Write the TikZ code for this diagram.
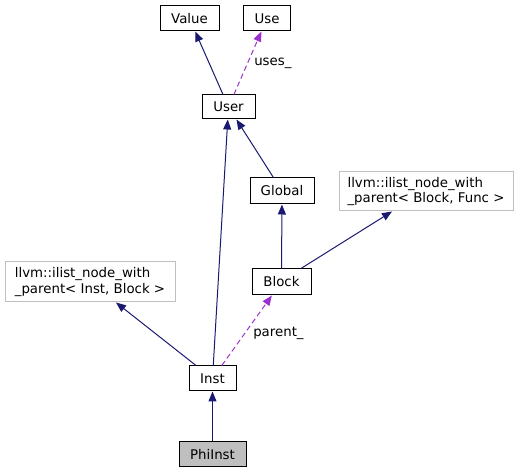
\documentclass[tikz,border=0pt]{standalone}
\usepackage{fontspec}
\setmainfont{DejaVu Sans}
\usetikzlibrary{arrows.meta}
\definecolor{navy}{HTML}{191970}
\definecolor{orchid}{HTML}{9A32CD}
\definecolor{lgray}{HTML}{BFBFBF}
\begin{document}
\begin{tikzpicture}[x=0.75pt,y=-0.75pt,
  box/.style={draw=black,line width=0.75pt,inner sep=0pt,font=\fontsize{10}{11.5}\selectfont,minimum height=18.75pt},
  gbox/.style={box,draw=lgray,align=left},
  inh/.style={draw=navy,line width=0.75pt,-{Triangle[length=7.5pt,width=6pt]}},
  use/.style={draw=orchid,line width=0.75pt,dash pattern=on 4pt off 2.5pt,-{Triangle[length=7.5pt,width=6pt]}},
  lbl/.style={font=\fontsize{10}{11.5}\selectfont,anchor=west,inner sep=0pt}]
\useasboundingbox (0,0) rectangle (519,473);
\node[box,minimum width=44.25pt] (Value) at (189.5,18.5) {Value};
\node[box,minimum width=35.25pt] (Use) at (267,18.5) {Use};
\node[box,minimum width=39.75pt,minimum height=18pt] (User) at (228.5,107) {User};
\node[box,minimum width=48pt,minimum height=19.5pt] (Global) at (282,191) {Global};
\node[gbox,minimum width=130.5pt,minimum height=29.25pt] (LLB) at (426,191.5) {llvm::ilist\_node\_with\\\_parent< Block, Func >};
\node[box,minimum width=44.25pt,minimum height=19.5pt] (Block) at (281.5,282) {Block};
\node[gbox,minimum width=127.5pt,minimum height=30pt] (LLI) at (90,282) {llvm::ilist\_node\_with\\\_parent< Inst, Block >};
\node[box,minimum width=35.25pt] (Inst) at (212.5,378.5) {Inst};
\node[box,fill=lgray,minimum width=50.25pt] (Phi) at (212.5,454.5) {PhiInst};
\draw[inh] (User) -- (Value);
\draw[use] (User) -- (Use);
\node[lbl] (usesl) at (254,63) {uses\_};
\draw[inh] (Inst) -- (User);
\draw[inh] (Global) -- (User);
\draw[inh] (Block) -- (Global);
\draw[inh] ([xshift=14.6pt]Block.north) -- ([xshift=-25.5pt]LLB.south);
\draw[inh] (Inst) -- (LLI);
\draw[use] (Inst) -- (Block);
\node[lbl] (parentl) at (253,333) {parent\_};
\draw[inh] (Phi) -- (Inst);
\end{tikzpicture}
\end{document}
